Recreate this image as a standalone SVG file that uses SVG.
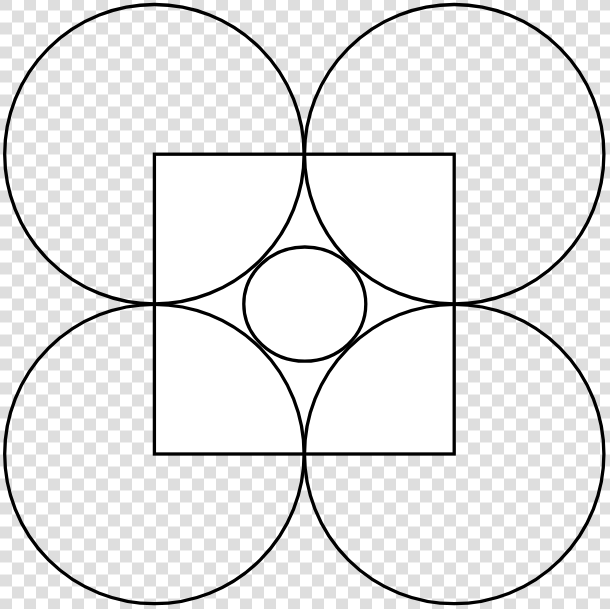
<svg xmlns="http://www.w3.org/2000/svg" width="610" height="609" viewBox="0 0 610 609">
  <defs>
    <pattern id="chk" x="0" y="-1.5" width="24" height="24" patternUnits="userSpaceOnUse">
      <rect width="24" height="24" fill="#ffffff"/>
      <rect x="0" y="0" width="12" height="12" fill="#dedede"/>
      <rect x="12" y="12" width="12" height="12" fill="#dedede"/>
    </pattern>
  </defs>
  <style>
    .ln { fill: none; stroke: #000; stroke-width: 3.3; }
    .wf { fill: #ffffff; stroke: #000; stroke-width: 3.3; }
  </style>
  <rect id="background" x="0" y="0" width="610" height="609" fill="url(#chk)"/>
  <g id="square">
    <rect x="154.4" y="154.2" width="299.8" height="299.8" class="wf"/>
  </g>
  <g id="circle-top-left"><circle cx="154.4" cy="154.2" r="149.7" class="ln"/></g>
  <g id="circle-top-right"><circle cx="454.2" cy="154.2" r="149.7" class="ln"/></g>
  <g id="circle-bottom-left"><circle cx="154.4" cy="454" r="149.7" class="ln"/></g>
  <g id="circle-bottom-right"><circle cx="454.2" cy="454" r="149.7" class="ln"/></g>
  <g id="center-circle"><ellipse cx="304.8" cy="304.1" rx="61" ry="57.1" class="wf"/></g>
  <g id="connectors"/>
</svg>
